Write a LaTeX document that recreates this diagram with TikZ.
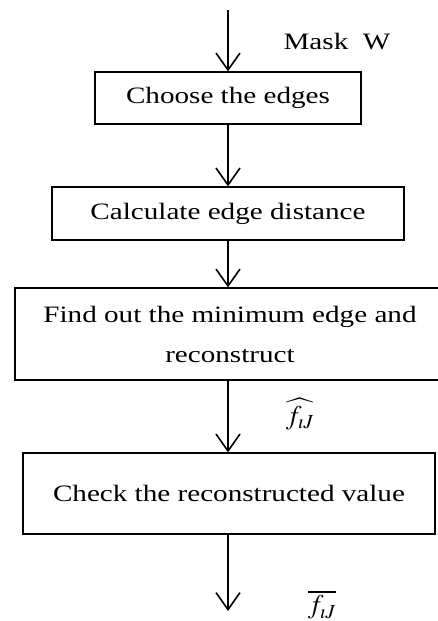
\documentclass[tikz,border=0pt]{standalone}
\usepackage{mathptmx}
\usepackage{fontspec}
\setmainfont{Liberation Serif}[FakeStretch=1.24]
\usepackage{tikz}
\usetikzlibrary{arrows.meta}

\begin{document}
\begin{tikzpicture}[x=1pt,y=-1pt,
  blk/.style={draw,line width=1.2pt,align=center,inner sep=0pt,
    font=\fontsize{23.5}{40}\selectfont},
  lbl/.style={inner sep=0pt,font=\fontsize{23.5}{28}\selectfont},
  mth/.style={inner sep=0pt,font=\fontsize{27}{30}\selectfont},
  >={Straight Barb[length=17pt,width=24pt]}]
 %%\tikzstyle{blk}=[draw,minimum size=15mm]
 \clip (0,0) rectangle (438,621);
	\node[blk,minimum width=266pt,minimum height=52pt] at (228,98) (CE) {Choose the edges};
	\node[blk,minimum width=352pt,minimum height=53pt] at (228,213.5) (ED) {Calculate edge distance};
	\node[blk,minimum width=430pt,minimum height=92pt] at (230,334) (ME)
	{Find out the minimum edge and\\reconstruct};
	\node[blk,minimum width=412pt,minimum height=81pt] at (229,493.5) (CR) {Check the reconstructed value};
	\coordinate (IN) at (228,10);
	\coordinate (OUT) at (228,611);
	\draw[->,line width=1.6pt] (IN) -- (CE.north);
	\draw[->,line width=1.6pt] (CE.south) -- (ED.north);
	\draw[->,line width=1.6pt] (ED.south) -- (ME.north -| ED.south);
	\draw[->,line width=1.6pt] (ME.south -| ED.south) -- (CR.north -| ED.south);
	\draw[->,line width=1.6pt] (CR.south -| ED.south) -- (OUT);
	\node[lbl] at (337,42) (MW) {Mask~ W};
	\node[mth] at (300,414) (FH) {$\widehat{f_{\imath J}}$};
	\node[mth] at (322,605) (FB) {$\overline{f_{\imath J}}$};
  %\node[lbl] at (337,42) (MW) {Mask W};
\end{tikzpicture}
\end{document}
